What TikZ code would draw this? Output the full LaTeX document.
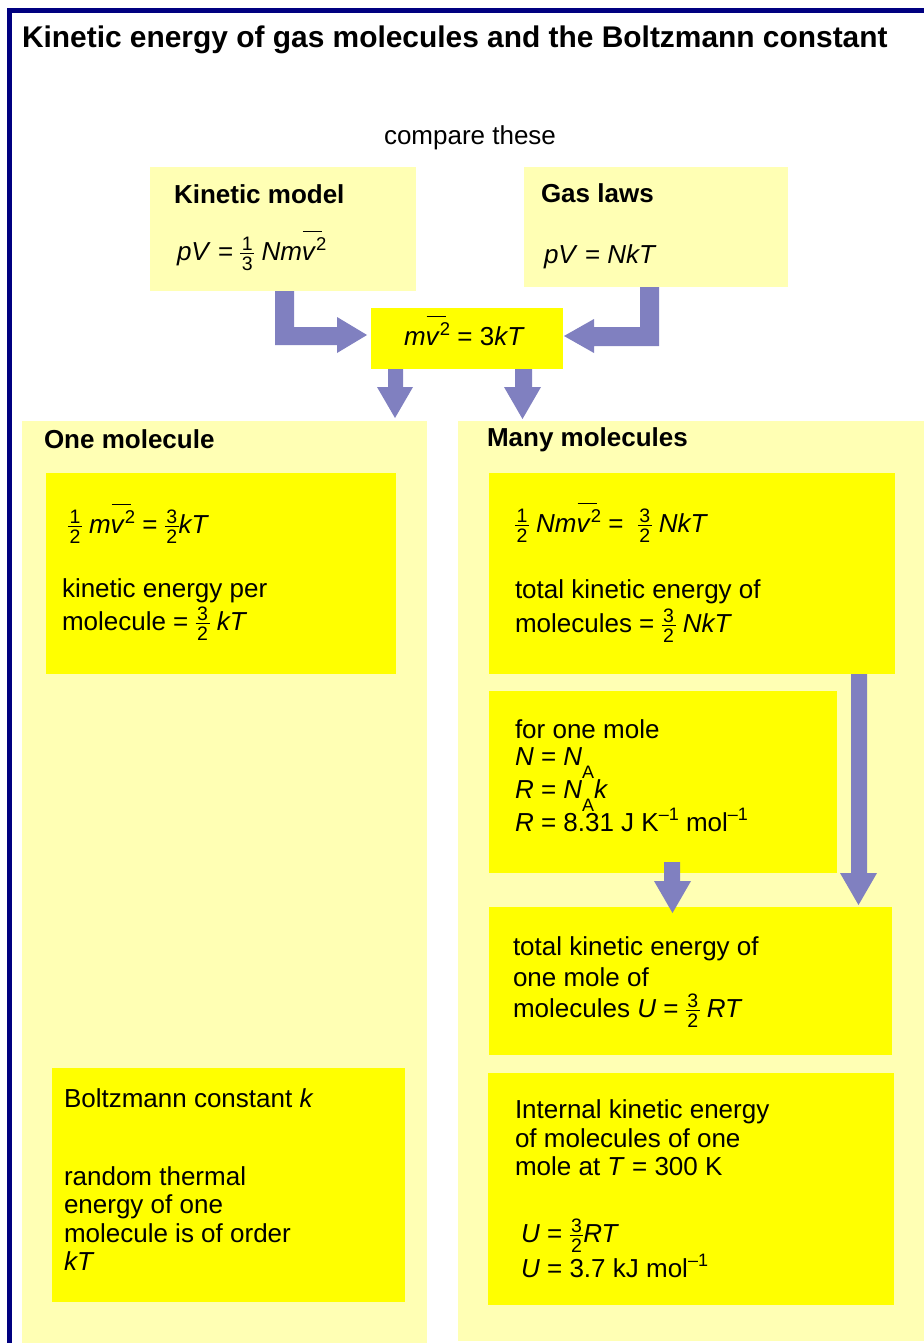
\documentclass[tikz,border=0pt]{standalone}
\usepackage{fontspec}
\setmainfont{Liberation Sans}
\usetikzlibrary{calc}
\definecolor{navyc}{RGB}{0,0,128}
\definecolor{lyel}{RGB}{255,255,180}
\definecolor{yel}{RGB}{255,255,0}
\definecolor{arrc}{RGB}{128,128,192}
\newcommand\fr[2]{\raisebox{-10pt}{\fontsize{19.5}{19.5}\selectfont\vbox{\halign{\kern1.5pt\hfil##\hfil\kern1.5pt\cr #1\cr\noalign{\kern2.3pt\hrule height 0.9pt\kern2.3pt}#2\cr}}}}
\newcommand\vsq{\rlap{\hspace{1pt}\raisebox{28.5pt}{\rule{19pt}{1pt}}}\textit{v}\raisebox{10pt}{\fontsize{18.5}{18.5}\selectfont 2}}
\newcommand\spr[1]{\raisebox{11pt}{\fontsize{18}{18}\selectfont #1}}
\newcommand\sbA{\raisebox{-13pt}{\fontsize{18}{18}\selectfont A}}
\begin{document}
\begin{tikzpicture}[x=1pt,y=-1pt,
  bx/.style={draw=none, inner sep=0pt, outer sep=0pt, anchor=north west},
  lbx/.style={bx, fill=lyel},
  ybx/.style={bx, fill=yel},
  arr/.style={fill=arrc, draw=none},
  txt/.style={inner sep=0pt, outer sep=0pt, anchor=base west, font=\fontsize{26}{30}\selectfont},
  hd/.style={txt, font=\fontsize{26}{30}\selectfont\bfseries},
  ttl/.style={txt, font=\fontsize{29.9}{34}\selectfont\bfseries}]
\useasboundingbox (0,0) rectangle (923,1343);
\fill[white] (0,0) rectangle (923,1343);
% panels and boxes
\node[lbx, minimum width=266pt, minimum height=124pt] (km) at (150,167) {};
\node[lbx, minimum width=264pt, minimum height=120pt] (gl) at (524,167) {};
\node[ybx, minimum width=192pt, minimum height=61pt] (cb) at (371,308) {};
\node[lbx, minimum width=405pt, minimum height=930pt] (lp) at (22,421) {};
\node[lbx, minimum width=472pt, minimum height=920pt] (rp) at (458,421) {};
\node[ybx, minimum width=350pt, minimum height=201pt] (b1) at (46,473) {};
\node[ybx, minimum width=353pt, minimum height=234pt] (bk) at (52,1068) {};
\node[ybx, minimum width=406pt, minimum height=201pt] (ba) at (489,473) {};
\node[ybx, minimum width=348pt, minimum height=182pt] (bb) at (489,691) {};
\node[ybx, minimum width=403pt, minimum height=148pt] (bc) at (489,907) {};
\node[ybx, minimum width=406pt, minimum height=232pt] (bd) at (488,1073) {};
% arrows
\fill[arr] ($(km.south west)+(125,0)$) -- ++(19,0) -- ++(0,36) -- ++(43,0) -- ++(0,-10)
  -- ++(30,18) -- ++(-30,18) -- ++(0,-8) -- ++(-62,0) -- cycle;
\fill[arr] ($(gl.south west)+(135,0)$) -- ++(0,59) -- ++(-65,0) -- ++(0,7)
  -- ++(-30,-17) -- ++(30,-17) -- ++(0,8) -- ++(46,0) -- ++(0,-40) -- cycle;
\fill[arr] ($(cb.south west)+(17,0)$) -- ++(15,0) -- ++(0,18) -- ++(10,0)
  -- ++(-18,31) -- ++(-18,-31) -- ++(11,0) -- cycle;
\fill[arr] ($(cb.south west)+(144,0)$) -- ++(17,0) -- ++(0,18) -- ++(9,0)
  -- ++(-18.5,32) -- ++(-18.5,-32) -- ++(11,0) -- cycle;
\fill[arr] ($(ba.south west)+(362,0)$) -- ++(16,0) -- ++(0,199) -- ++(10,0)
  -- ++(-18.5,32) -- ++(-18.5,-32) -- ++(11,0) -- cycle;
\fill[arr] ($(bb.south west)+(175,-11)$) -- ++(16,0) -- ++(0,19) -- ++(11,0)
  -- ++(-18.5,32) -- ++(-18.5,-32) -- ++(10,0) -- cycle;
% texts
\node[ttl] (t0) at (22,48) {Kinetic energy of gas molecules and the Boltzmann constant};
\node[txt] (t1) at (384,145) {compare these};
\node[hd] (t2) at (174,204) {Kinetic model};
\node[txt] (t3) at (177,260) {\textit{pV} = \fr{1}{3} \textit{Nm}\vsq};
\node[hd] (t4) at (541,202) {Gas laws};
\node[txt] (t5) at (544,263) {\textit{pV} = \textit{NkT}};
\node[txt] (t6) at (404,345) {\textit{m}\vsq{} = 3\textit{kT}};
\node[hd] (t7) at (44,448) {One molecule};
\node[hd] (t8) at (487,446) {Many molecules};
\node[txt] (t9) at (68,533) {\fr{1}{2} \textit{m}\vsq{} = \fr{3}{2}\textit{kT}};
\node[txt] (t10) at (62,597) {kinetic energy per};
\node[txt] (t11) at (62,630) {molecule = \fr{3}{2} \textit{kT}};
\node[txt] (t12) at (515,532) {\fr{1}{2} \textit{Nm}\vsq{} = \ \fr{3}{2} \textit{NkT}};
\node[txt] (t13) at (515,598) {total kinetic energy of};
\node[txt] (t14) at (515,632) {molecules = \fr{3}{2} \textit{NkT}};
\node[txt] (t15) at (515,738) {for one mole};
\node[txt] (t16) at (515,765) {\textit{N} = \textit{N}\sbA};
\node[txt] (t17) at (515,798) {\textit{R} = \textit{N}\sbA\textit{k}};
\node[txt] (t18) at (515,831) {\textit{R} = 8.31 J K\spr{–1} mol\spr{–1}};
\node[txt] (t19) at (513,955) {total kinetic energy of};
\node[txt] (t20) at (513,986) {one mole of};
\node[txt] (t21) at (513,1017) {molecules \textit{U} = \fr{3}{2} \textit{RT}};
\node[txt] (t22) at (64,1107) {Boltzmann constant \textit{k}};
\node[txt] (t23) at (64,1185) {random thermal};
\node[txt] (t24) at (64,1213) {energy of one};
\node[txt] (t25) at (64,1242) {molecule is of order};
\node[txt] (t26) at (64,1270) {\textit{kT}};
\node[txt] (t27) at (515,1118) {Internal kinetic energy};
\node[txt] (t28) at (515,1147) {of molecules of one};
\node[txt] (t29) at (515,1175) {mole at \textit{T} = 300 K};
\node[txt] (t30) at (521,1242) {\textit{U} = \fr{3}{2}\textit{RT}};
\node[txt] (t31) at (521,1277) {\textit{U} = 3.7 kJ mol\spr{–1}};
% frame
\draw[navyc, line width=5pt] (9.5,10.5) rectangle (945,1365);
\end{tikzpicture}
\end{document}
